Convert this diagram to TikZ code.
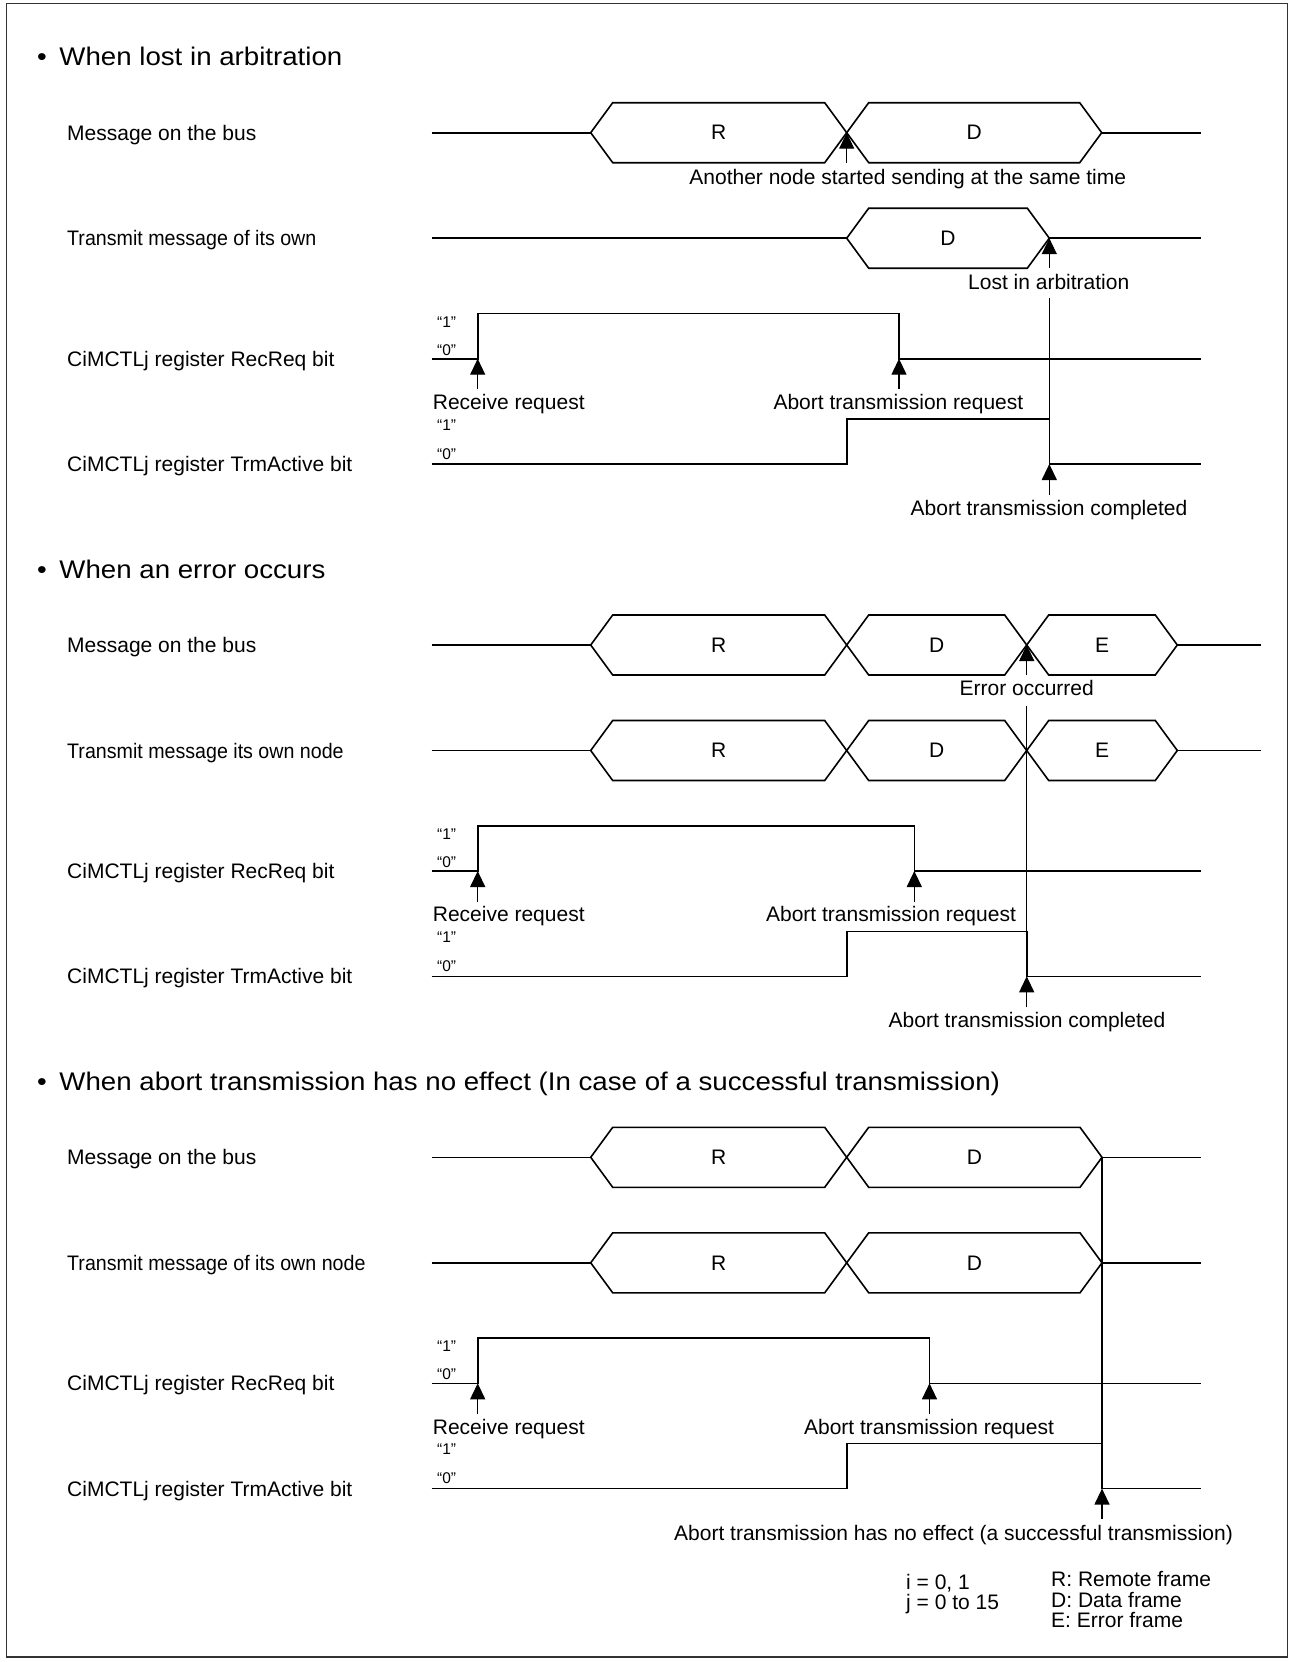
\documentclass[tikz,border=0pt]{standalone}
\usepackage{fontspec}
\setmainfont{Liberation Sans}
\usetikzlibrary{arrows.meta}
\tikzset{
  sig/.style={line width=1.6pt, line join=miter},
  hexa/.style={line width=1.6pt, line join=miter},
  arr/.style={line width=1.3pt, -{Triangle[length=16pt,width=15pt]}},
  marker/.style={line width=1.1pt},
  lbl/.style={anchor=base west, inner sep=0pt, font=\fontsize{21}{25}\selectfont},
  ann/.style={anchor=base, inner sep=0pt, font=\fontsize{21}{25}\selectfont},
  lvl/.style={anchor=west, inner sep=0pt, font=\fontsize{15.5}{18}\selectfont},
  ttl/.style={anchor=base west, inner sep=0pt, font=\fontsize{25.5}{30}\selectfont},
  hexlbl/.style={inner sep=0pt, font=\fontsize{21}{25}\selectfont},
  frm/.style={line width=1.2pt, draw=black!80}
}
\newcommand\hexsig[5]{%
  \draw[hexa] (#2,#4) -- (#2+22,#4-30) -- (#3-22,#4-30) -- (#3,#4) -- (#3-22,#4+30) -- (#2+22,#4+30) -- cycle;
  \node[hexlbl] (#1) at ({(#2+#3)/2},#4) {#5};
}
\newcommand\ttltext[1]{\scalebox{1.085}[1]{\makebox[20.5pt][l]{•}#1}}
\newcommand\trmtext[1]{\scalebox{0.935}[1]{#1}}
\begin{document}
\begin{tikzpicture}[x=1pt,y=-1pt]
\useasboundingbox (0,0) rectangle (1289,1662);
\draw[frm] (6.5,3.5) rectangle (1287.5,1657);

% ================= Section 1 =================
\begin{scope}[yshift=-132.7pt]
\node[ttl] (t1) at (37,-66.9) {\ttltext{When lost in arbitration}};
\node[lbl] (l1a) at (67,7.5) {Message on the bus};
\node[lbl] (l1b) at (67,113) {\trmtext{Transmit message of its own}};
\node[lbl] (l1c) at (67,233.5) {CiMCTLj register RecReq bit};
\node[lbl] (l1d) at (67,338.8) {CiMCTLj register TrmActive bit};
% bus
\draw[sig] (431.7,0) -- (590.7,0);
\hexsig{h1r}{590.7}{846.7}{0}{R}
\hexsig{h1d}{846.7}{1101.7}{0}{D}
\draw[sig] (1101.7,0) -- (1200.7,0);
% transmit
\draw[sig] (431.7,105.5) -- (846.7,105.5);
\hexsig{h1t}{846.7}{1049.3}{105.5}{D}
\draw[sig] (1049.3,105.5) -- (1200.7,105.5);
% RecReq
\draw[sig] (431.7,226) -- (477.7,226) -- (477.7,180.7) -- (899,180.7) -- (899,226) -- (1200.7,226);
% TrmActive
\draw[sig] (431.7,331.3) -- (846.7,331.3) -- (846.7,286.3) -- (1049.3,286.3) -- (1049.3,331.3) -- (1200.7,331.3);
% levels
\node[lvl] (v1a) at (437,189) {“1”};
\node[lvl] (v1b) at (437,217.3) {“0”};
\node[lvl] (v1c) at (437,292) {“1”};
\node[lvl] (v1d) at (437,321) {“0”};
% arrows
\coordinate (c1s) at (846.7,0); \coordinate (c1sb) at (846.7,30);
\draw[arr] (c1sb) -- (c1s);
\node[ann] (n1s) at (907.7,51.8) {Another node started sending at the same time};
\coordinate (c1l) at (1049.3,105.5); \coordinate (c1lb) at (1049.3,135.5);
\draw[arr] (c1lb) -- (c1l);
\node[ann] (n1l) at (1048.7,156.5) {Lost in arbitration};
\coordinate (m1t) at (1049.3,165.6); \coordinate (m1b) at (1049.3,286.3);
\draw[marker] (m1t) -- (m1b);
\coordinate (c1r) at (477.7,226); \coordinate (c1rb) at (477.7,256.5);
\draw[arr] (c1rb) -- (c1r);
\node[lbl] (n1r) at (432.7,276.8) {Receive request};
\coordinate (c1a) at (899,226); \coordinate (c1ab) at (899,256.5);
\draw[arr] (c1ab) -- (c1a);
\node[ann] (n1a) at (898.4,276.8) {Abort transmission request};
\coordinate (c1c) at (1049.3,331.3); \coordinate (c1cb) at (1049.3,362.3);
\draw[arr] (c1cb) -- (c1c);
\node[ann] (n1c) at (1049,382.5) {Abort transmission completed};
\end{scope}

% ================= Section 2 =================
\begin{scope}[yshift=-645pt]
\node[ttl] (t2) at (37,-66.9) {\ttltext{When an error occurs}};
\node[lbl] (l2a) at (67,7.5) {Message on the bus};
\node[lbl] (l2b) at (67,113) {\trmtext{Transmit message its own node}};
\node[lbl] (l2c) at (67,233.5) {CiMCTLj register RecReq bit};
\node[lbl] (l2d) at (67,338.8) {CiMCTLj register TrmActive bit};
% bus
\draw[sig] (431.7,0) -- (590.7,0);
\hexsig{h2r}{590.7}{846.7}{0}{R}
\hexsig{h2d}{846.7}{1026.7}{0}{D}
\hexsig{h2e}{1026.7}{1177.3}{0}{E}
\draw[sig] (1177.3,0) -- (1261,0);
% transmit
\draw[sig] (431.7,105.5) -- (590.7,105.5);
\hexsig{h2tr}{590.7}{846.7}{105.5}{R}
\hexsig{h2td}{846.7}{1026.7}{105.5}{D}
\hexsig{h2te}{1026.7}{1177.3}{105.5}{E}
\draw[sig] (1177.3,105.5) -- (1261,105.5);
% RecReq
\draw[sig] (431.7,226) -- (477.7,226) -- (477.7,180.7) -- (914.3,180.7) -- (914.3,226) -- (1200.7,226);
% TrmActive
\draw[sig] (431.7,331.3) -- (846.7,331.3) -- (846.7,286.3) -- (1026.7,286.3) -- (1026.7,331.3) -- (1200.7,331.3);
% levels
\node[lvl] (v2a) at (437,189) {“1”};
\node[lvl] (v2b) at (437,217.3) {“0”};
\node[lvl] (v2c) at (437,292) {“1”};
\node[lvl] (v2d) at (437,321) {“0”};
% arrows
\coordinate (c2e) at (1026.7,0); \coordinate (c2eb) at (1026.7,30);
\draw[arr] (c2eb) -- (c2e);
\node[ann] (n2e) at (1026.7,50.8) {Error occurred};
\coordinate (m2t) at (1026.7,61); \coordinate (m2b) at (1026.7,286.3);
\draw[marker] (m2t) -- (m2b);
\coordinate (c2r) at (477.7,226); \coordinate (c2rb) at (477.7,256.5);
\draw[arr] (c2rb) -- (c2r);
\node[lbl] (n2r) at (432.7,276.8) {Receive request};
\coordinate (c2a) at (914.3,226); \coordinate (c2ab) at (914.3,256.5);
\draw[arr] (c2ab) -- (c2a);
\node[ann] (n2a) at (891,276.8) {Abort transmission request};
\coordinate (c2c) at (1026.7,331.3); \coordinate (c2cb) at (1026.7,362.3);
\draw[arr] (c2cb) -- (c2c);
\node[ann] (n2c) at (1027,382.5) {Abort transmission completed};
\end{scope}

% ================= Section 3 =================
\begin{scope}[yshift=-1157.3pt]
\node[ttl] (t3) at (37,-66.9) {\ttltext{When abort transmission has no effect (In case of a successful transmission)}};
\node[lbl] (l3a) at (67,7.5) {Message on the bus};
\node[lbl] (l3b) at (67,113) {\trmtext{Transmit message of its own node}};
\node[lbl] (l3c) at (67,233.5) {CiMCTLj register RecReq bit};
\node[lbl] (l3d) at (67,338.8) {CiMCTLj register TrmActive bit};
% bus
\draw[sig] (431.7,0) -- (590.7,0);
\hexsig{h3r}{590.7}{846.7}{0}{R}
\hexsig{h3d}{846.7}{1102}{0}{D}
\draw[sig] (1102,0) -- (1200.7,0);
% transmit
\draw[sig] (431.7,105.5) -- (590.7,105.5);
\hexsig{h3tr}{590.7}{846.7}{105.5}{R}
\hexsig{h3td}{846.7}{1102}{105.5}{D}
\draw[sig] (1102,105.5) -- (1200.7,105.5);
% RecReq
\draw[sig] (431.7,226) -- (477.7,226) -- (477.7,180.7) -- (929.5,180.7) -- (929.5,226) -- (1200.7,226);
% TrmActive
\draw[sig] (431.7,331.3) -- (846.7,331.3) -- (846.7,286.3) -- (1102,286.3) -- (1102,331.3) -- (1200.7,331.3);
% levels
\node[lvl] (v3a) at (437,189) {“1”};
\node[lvl] (v3b) at (437,217.3) {“0”};
\node[lvl] (v3c) at (437,292) {“1”};
\node[lvl] (v3d) at (437,321) {“0”};
% marker
\coordinate (m3t) at (1102,0); \coordinate (m3b) at (1102,286.3);
\draw[marker] (m3t) -- (m3b);
% arrows
\coordinate (c3r) at (477.7,226); \coordinate (c3rb) at (477.7,256.5);
\draw[arr] (c3rb) -- (c3r);
\node[lbl] (n3r) at (432.7,276.8) {Receive request};
\coordinate (c3a) at (929.5,226); \coordinate (c3ab) at (929.5,256.5);
\draw[arr] (c3ab) -- (c3a);
\node[ann] (n3a) at (929,276.8) {Abort transmission request};
\coordinate (c3c) at (1102,331.3); \coordinate (c3cb) at (1102,361.5);
\draw[arr] (c3cb) -- (c3c);
\node[ann] (n3c) at (953.5,383.2) {Abort transmission has no effect (a successful transmission)};
\end{scope}

% ================= Legend =================
\node[lbl] (gi) at (906,1589.5) {i = 0, 1};
\node[lbl] (gj) at (906,1609.2) {j = 0 to 15};
\node[lbl] (gr) at (1051,1586.8) {R: Remote frame};
\node[lbl] (gd) at (1051,1607.5) {D: Data frame};
\node[lbl] (ge) at (1051,1627.5) {E: Error frame};
\end{tikzpicture}
\end{document}
